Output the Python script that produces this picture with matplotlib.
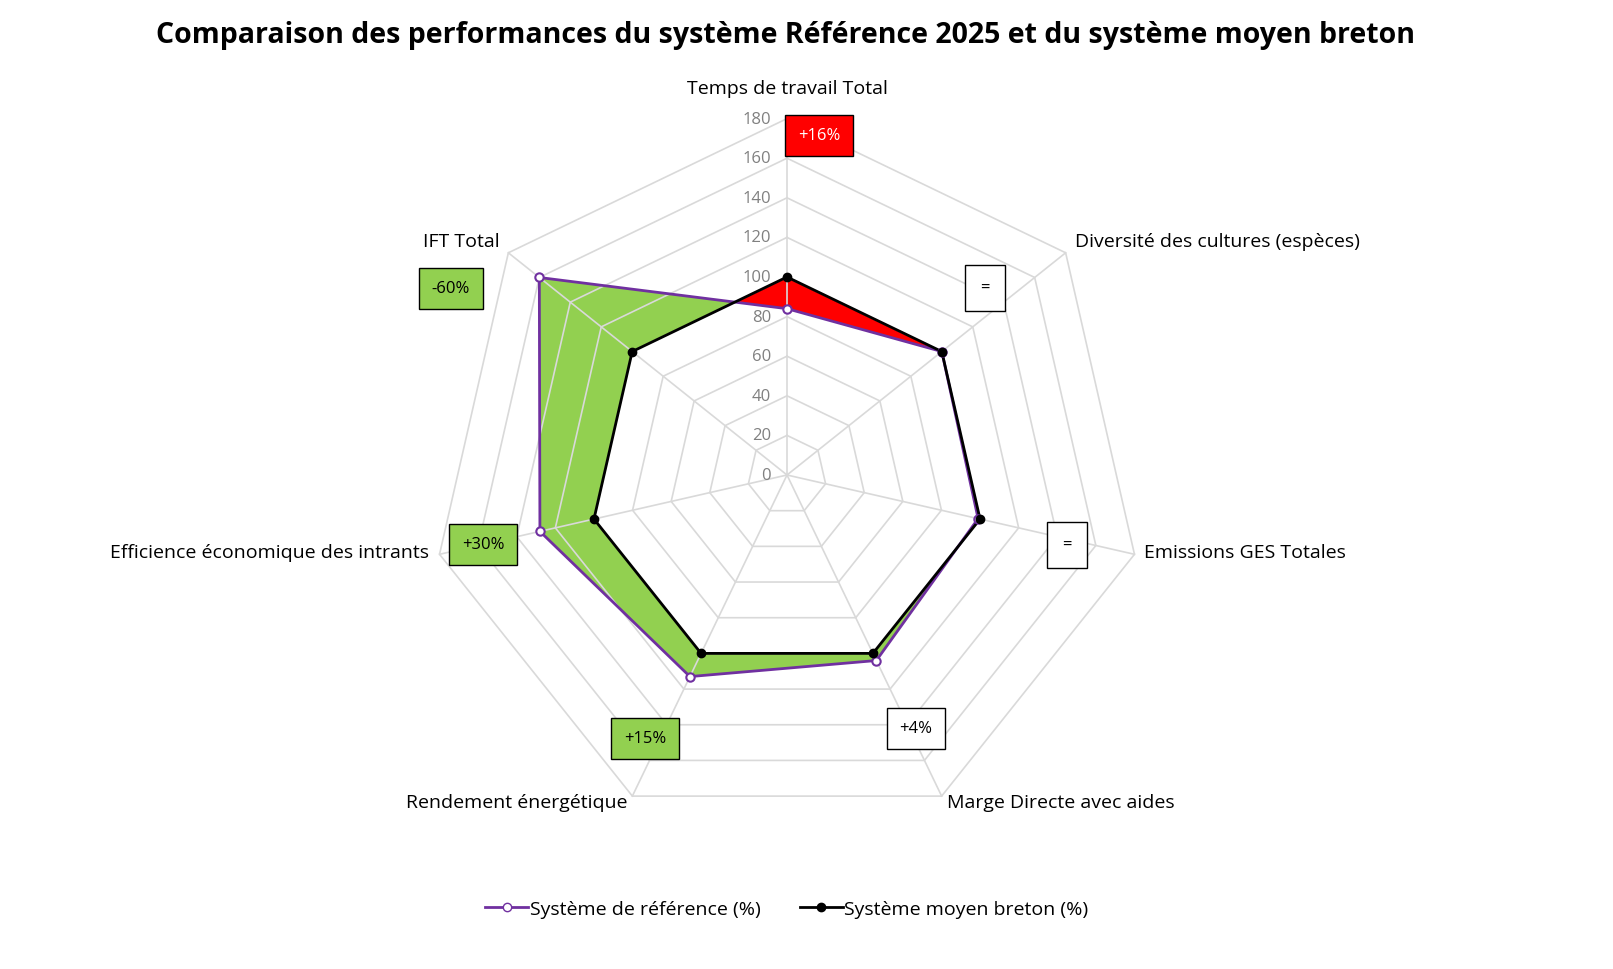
import numpy as np
import matplotlib
matplotlib.use("Agg")
import matplotlib.pyplot as plt
from matplotlib.lines import Line2D

categories = ["Temps de travail Total", "Diversité des cultures (espèces)", "Emissions GES Totales",
              "Marge Directe avec aides", "Rendement énergétique", "Efficience économique des intrants", "IFT Total"]
reference = [84, 100, 99, 104, 113, 128, 160]
moyen = [100, 100, 100, 100, 100, 100, 100]
ticks = [0, 20, 40, 60, 80, 100, 120, 140, 160, 180]
badges = ["+16%", "=", "=", "+4%", "+15%", "+30%", "-60%"]
badge_colors = ["#FF0000", "white", "white", "white", "#92D050", "#92D050", "#92D050"]

plt.rcParams["font.family"] = "Open Sans"
fig = plt.figure(figsize=(16.13, 9.7), dpi=100)
ax = fig.add_axes([0, 0, 1, 1])
ax.set_xlim(-787/2, (1613-787)/2)
ax.set_ylim(-(970-476)/2, 476/2)
ax.axis("off")
S = 0.99
n = len(categories)
ang = np.pi/2 - 2*np.pi*np.arange(n)/n

def xy(vals):
    v = np.array(vals, float)*S
    return v*np.cos(ang), v*np.sin(ang)

def radial(vals, thetas):
    x, y = xy(vals); x = np.append(x, x[0]); y = np.append(y, y[0])
    r = np.zeros_like(thetas)
    for k, th in enumerate(thetas):
        dv = np.array([np.cos(th), np.sin(th)])
        for i in range(n):
            p1 = np.array([x[i], y[i]]); p2 = np.array([x[i+1], y[i+1]])
            e = p2 - p1
            M = np.array([dv, -e]).T
            if abs(np.linalg.det(M)) < 1e-12: continue
            s, u = np.linalg.solve(M, p1)
            if s > 0 and -1e-9 <= u <= 1+1e-9:
                r[k] = s; break
    return r

th = np.linspace(0, 2*np.pi, 1400, endpoint=False)
rp = radial(reference, th); rb = radial(moyen, th)
rmin = np.minimum(rp, rb)
ax.fill(rp*np.cos(th), rp*np.sin(th), color="#92D050", zorder=1, lw=0)
ax.fill(rb*np.cos(th), rb*np.sin(th), color="#FF0000", zorder=2, lw=0)
ax.fill(rmin*np.cos(th), rmin*np.sin(th), color="white", zorder=3, lw=0)

for t in ticks[1:]:
    gx, gy = xy([t]*n)
    ax.plot(np.append(gx, gx[0]), np.append(gy, gy[0]), color="#D9D9D9", lw=1.2, zorder=4)
gx, gy = xy([180]*n)
for i in range(n):
    ax.plot([0, gx[i]], [0, gy[i]], color="#D9D9D9", lw=1.2, zorder=4)
for t in ticks:
    ax.text(-8, t*S, str(t), ha="right", va="center", color="#808080", fontsize=12, zorder=6)

px, py = xy(reference)
ax.plot(np.append(px, px[0]), np.append(py, py[0]), color="#7030A0", lw=2, zorder=5)
ax.plot(px, py, "o", mfc="white", mec="#7030A0", mew=1.5, ms=6, zorder=6)
bx, by = xy(moyen)
ax.plot(np.append(bx, bx[0]), np.append(by, by[0]), color="black", lw=2, zorder=5)
ax.plot(bx, by, "o", color="black", ms=6, zorder=6)

def d(pxx, pyy):
    return (pxx-787)/2, (476-pyy)/2

lab_pos = [(787, 89), (1217, 242), (1245, 553), (1061, 803), (517, 803), (270, 553), (461, 242)]
for c, (a, b) in zip(categories, lab_pos):
    ax.text(*d(a, b), c, ha="center", va="center", fontsize=14)

box_pos = [(819, 136), (985, 289), (1067, 546), (916, 729), (645, 739), (483, 545), (451, 289)]
for t, col, (a, b) in zip(badges, badge_colors, box_pos):
    tc = "white" if col == "#FF0000" else "black"
    ax.text(*d(a, b), t, ha="center", va="center", fontsize=12, color=tc, zorder=7,
            bbox=dict(boxstyle="square,pad=0.75" if t != "=" else "square,pad=0.9",
                      fc=col, ec="black", lw=1))

fig.text(785/1613, 1-36/970, "Comparaison des performances du système Référence 2025 et du système moyen breton",
         ha="center", va="center", fontsize=20.5, fontweight="bold")

handles = [Line2D([], [], color="#7030A0", lw=2, marker="o", mfc="white", mec="#7030A0", ms=6),
           Line2D([], [], color="black", lw=2, marker="o", ms=6)]
fig.legend(handles, ["Système de référence (%)", "Système moyen breton (%)"], loc="center",
           bbox_to_anchor=(787/1613, 1-910/970), ncol=2, frameon=False, fontsize=14,
           handlelength=2.2, handletextpad=0.1, columnspacing=2)
fig.savefig("out.png", dpi=100)
